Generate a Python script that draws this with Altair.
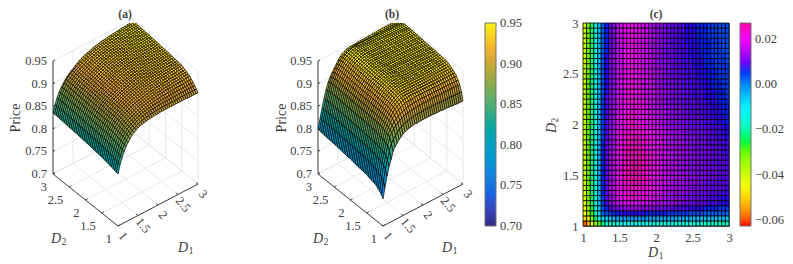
import altair as alt

D_TICKS = [1, 1.5, 2, 2.5, 3]
Z_TICKS = [0.7, 0.75, 0.8, 0.85, 0.9, 0.95]
D_GRID = [1 + 0.05 * k for k in range(41)]

PRICE_A = [
[815,833,846,857,866,873,879,884,888,891,894,896,897,898,899,900,901,901,902,902,902,903,903,903,903,903,903,903,903,903,903,903,903,903,903,902,902,902,902,902,902],
[816,835,848,859,868,875,881,886,890,893,896,898,900,901,902,903,904,905,905,906,906,906,907,907,907,907,907,907,907,907,907,907,907,907,907,907,907,907,907,907,907],
[817,836,850,861,870,877,883,888,892,895,898,900,902,904,905,906,907,908,908,909,909,910,910,910,911,911,911,911,911,911,911,911,912,912,912,912,912,912,912,912,912],
[818,837,851,862,871,878,884,889,893,896,899,901,903,905,906,908,909,910,911,911,912,912,913,913,913,914,914,914,915,915,915,915,915,916,916,916,916,916,916,916,916],
[819,838,852,863,872,879,885,890,894,897,900,902,904,906,908,909,910,911,912,913,914,915,915,916,916,917,917,917,918,918,918,918,919,919,919,919,919,920,920,920,920],
[820,839,853,864,873,880,886,891,895,898,901,903,905,907,909,910,912,913,914,915,916,917,917,918,919,919,920,920,921,921,921,922,922,922,923,923,923,923,924,924,924],
[821,840,854,865,874,881,887,892,896,899,902,904,906,908,910,912,913,914,915,916,917,918,919,920,920,921,921,922,922,923,923,923,924,924,924,925,925,925,926,926,926],
[822,841,855,866,875,882,888,893,897,900,903,905,907,909,911,913,914,915,916,917,918,919,920,921,921,922,923,923,924,924,925,925,925,926,926,926,927,927,927,928,928],
[822,841,855,867,876,883,889,894,898,901,903,906,908,910,912,914,915,916,917,918,919,920,921,922,922,923,924,924,925,925,926,926,927,927,927,928,928,928,929,929,930],
[823,842,856,867,876,884,890,894,898,901,904,906,909,911,913,914,916,917,918,919,920,921,922,923,923,924,925,925,926,926,927,927,928,928,929,929,929,930,930,931,932],
[824,843,857,868,877,884,890,895,899,902,905,907,909,911,913,915,917,918,919,920,921,922,923,924,925,925,926,927,927,928,928,929,929,930,930,931,931,932,932,933,934],
[824,843,857,868,877,884,890,895,899,902,905,907,910,912,914,916,917,919,920,921,922,923,924,925,925,926,927,927,928,928,929,929,930,930,931,931,932,932,933,933,934],
[825,844,858,869,877,885,891,895,899,902,905,908,910,912,914,916,918,919,920,922,923,924,925,925,926,927,927,928,929,929,930,930,931,931,931,932,932,933,933,934,935],
[825,844,858,869,878,885,891,896,900,903,905,908,911,913,915,917,918,920,921,922,923,924,925,926,927,927,928,929,929,930,930,931,931,932,932,933,933,933,934,934,935],
[826,844,858,869,878,885,891,896,900,903,906,908,911,913,915,917,919,920,921,923,924,925,926,926,927,928,929,929,930,930,931,931,932,932,933,933,934,934,934,935,936],
[826,845,859,870,878,885,891,896,900,903,906,909,911,913,916,917,919,921,922,923,924,925,926,927,928,928,929,930,930,931,931,932,932,933,933,934,934,935,935,936,936],
[827,845,859,870,879,886,892,896,900,904,906,909,912,914,916,918,919,921,922,924,925,926,927,927,928,929,930,930,931,931,932,932,933,933,934,934,935,935,936,936,937],
[827,845,859,870,879,886,892,897,901,904,906,909,912,914,916,918,920,921,923,924,925,926,927,928,929,929,930,931,931,932,932,933,933,934,934,935,935,936,936,937,937],
[828,846,860,870,879,886,892,897,901,904,907,910,912,914,917,918,920,922,923,925,926,927,928,928,929,930,931,931,932,932,933,933,934,934,935,935,936,936,937,937,938],
[828,846,860,871,879,886,892,897,901,904,907,910,912,915,917,919,921,922,924,925,926,927,928,929,930,930,931,932,932,933,933,934,934,935,935,936,936,937,937,938,938],
[829,846,860,871,880,887,893,897,901,905,907,910,913,915,917,919,921,923,924,925,927,928,929,930,930,931,932,932,933,933,934,934,935,935,936,936,937,937,938,938,939],
[829,847,860,871,880,887,893,898,902,905,907,911,913,915,918,920,921,923,925,926,927,928,929,930,931,931,932,933,933,934,934,935,935,936,936,937,937,938,938,939,939],
[829,847,861,871,880,887,893,898,902,905,908,911,913,916,918,920,922,923,925,926,927,929,930,931,931,932,933,933,934,934,935,935,936,936,937,937,938,938,939,939,940],
[830,847,861,872,880,887,893,898,902,905,908,911,914,916,918,920,922,924,925,927,928,929,930,931,932,932,933,934,934,935,935,936,936,937,937,938,938,939,939,940,940],
[830,848,861,872,881,888,894,898,902,906,908,911,914,916,919,921,922,924,926,927,928,929,930,931,932,933,933,934,935,935,936,936,937,937,938,938,939,939,940,940,941],
[831,848,862,872,881,888,894,899,903,906,908,912,914,917,919,921,923,924,926,927,928,930,931,932,932,933,934,934,935,936,936,937,937,938,938,939,939,940,940,941,941],
[831,848,862,873,881,888,894,899,903,906,909,912,915,917,919,921,923,925,926,928,929,930,931,932,933,933,934,935,935,936,937,937,938,938,939,939,940,940,940,941,941],
[831,849,862,873,881,888,894,899,903,906,909,912,915,917,920,922,923,925,927,928,929,930,931,932,933,934,934,935,936,936,937,937,938,938,939,939,940,940,941,941,942],
[832,849,862,873,882,889,895,899,903,907,909,912,915,918,920,922,924,925,927,928,929,931,932,933,933,934,935,935,936,937,937,938,938,939,939,940,940,941,941,942,942],
[832,849,863,873,882,889,895,900,904,907,909,913,915,918,920,922,924,926,927,929,930,931,932,933,934,934,935,936,936,937,938,938,939,939,940,940,941,941,942,942,942],
[832,850,863,874,882,889,895,900,904,907,910,913,916,918,921,923,924,926,928,929,930,931,932,933,934,935,935,936,937,937,938,939,939,940,940,941,941,941,942,942,943],
[833,850,863,874,882,889,895,900,904,907,910,913,916,918,921,923,925,926,928,929,931,932,933,934,934,935,936,936,937,938,938,939,939,940,940,941,941,942,942,943,943],
[833,850,863,874,883,890,896,900,904,908,910,913,916,919,921,923,925,927,928,930,931,932,933,934,935,935,936,937,937,938,939,939,940,940,941,941,942,942,943,943,943],
[833,850,864,874,883,890,896,901,905,908,910,914,916,919,921,923,925,927,929,930,931,932,933,934,935,936,936,937,938,938,939,940,940,941,941,942,942,942,943,943,944],
[834,851,864,875,883,890,896,901,905,908,911,914,917,919,922,924,926,927,929,930,931,933,934,935,935,936,937,937,938,939,939,940,940,941,941,942,942,943,943,944,944],
[834,851,864,875,883,891,897,901,905,909,911,914,917,920,922,924,926,928,929,931,932,933,934,935,936,936,937,938,938,939,940,940,941,941,942,942,943,943,943,944,944],
[834,851,864,875,884,891,897,902,906,909,912,915,917,920,922,924,926,928,930,931,932,933,934,935,936,937,937,938,939,939,940,940,941,941,942,942,943,943,944,944,945],
[835,851,864,875,884,891,897,902,906,909,912,915,918,920,923,925,927,928,930,931,932,934,935,935,936,937,938,938,939,940,940,941,941,942,942,943,943,944,944,944,945],
[835,851,864,875,884,892,898,902,906,910,913,915,918,921,923,925,927,929,930,932,933,934,935,936,937,937,938,939,939,940,941,941,942,942,942,943,943,944,944,945,945],
[835,851,864,875,884,892,898,903,907,910,913,916,918,921,923,925,927,929,930,932,933,934,935,936,937,938,938,939,940,940,941,941,942,942,943,943,944,944,944,945,945],
[835,851,864,874,882,888,894,899,903,907,910,914,917,920,923,925,927,928,930,931,933,934,935,936,937,938,938,939,940,940,941,941,942,942,943,943,943,944,944,945,945],
]

PRICE_B = [
[760,783,806,824,837,853,861,867,872,876,880,883,885,886,887,888,889,888,889,889,889,889,889,889,889,889,888,888,888,888,887,887,887,886,886,885,885,884,884,884,884],
[766,793,816,836,853,867,875,881,886,890,893,896,898,899,900,901,902,903,903,903,903,903,904,904,903,903,903,903,903,903,902,902,902,902,902,902,901,901,901,901,901],
[771,799,823,844,862,879,887,893,898,901,905,907,909,911,912,913,914,914,914,915,915,916,916,915,916,916,916,916,916,915,915,915,916,915,915,915,915,915,915,914,914],
[774,802,826,847,865,882,890,897,903,907,911,914,916,918,919,921,921,922,923,922,923,923,923,923,922,923,922,922,923,922,922,922,922,922,922,922,922,921,921,921,921],
[777,805,828,849,867,884,893,901,908,913,917,920,923,925,927,927,928,928,928,929,929,930,929,929,929,929,929,928,929,928,928,927,928,928,927,927,927,927,927,927,927],
[779,807,830,850,869,885,895,903,910,916,921,924,927,929,931,931,932,933,933,933,933,933,932,932,933,932,932,932,932,932,931,932,931,931,932,931,931,931,931,931,931],
[780,808,831,851,870,887,896,905,912,918,923,926,929,932,934,935,935,935,935,935,935,935,935,935,934,934,934,934,934,934,934,934,934,934,934,934,934,934,934,934,934],
[781,809,832,852,871,888,897,906,913,919,925,928,931,934,936,936,937,937,937,937,937,937,937,937,936,936,936,936,936,936,936,936,936,936,936,936,936,936,936,937,937],
[782,810,833,853,872,889,898,907,914,920,925,929,932,935,937,938,938,938,938,938,938,938,938,938,938,938,938,938,938,938,938,938,938,938,938,938,938,938,938,939,939],
[783,812,834,853,873,890,899,907,914,920,926,930,934,936,938,939,939,940,940,940,940,939,939,939,939,939,939,939,939,939,939,939,939,939,939,939,939,940,940,940,941],
[785,813,835,854,874,890,899,908,915,921,927,931,934,937,939,940,941,941,941,941,941,940,940,940,940,940,940,940,940,940,940,940,940,941,940,941,941,941,941,942,943],
[785,813,835,854,874,890,899,908,915,921,927,931,935,937,939,941,941,942,942,942,942,941,941,941,940,941,941,940,941,940,941,940,941,941,941,941,942,941,942,942,943],
[786,814,836,855,874,891,900,908,915,921,927,931,935,938,940,941,942,942,942,943,943,942,942,941,941,942,941,941,942,941,942,941,942,942,941,942,942,942,942,943,944],
[786,814,836,855,875,891,900,909,916,922,927,932,936,938,940,942,942,943,943,943,943,942,942,942,942,942,942,942,942,942,942,942,942,942,942,943,943,942,943,943,944],
[787,814,836,855,875,891,900,909,916,922,928,932,936,938,940,942,943,943,943,944,944,943,943,942,942,943,943,942,943,942,943,942,943,943,943,943,943,943,943,944,945],
[787,815,837,856,875,891,900,909,916,922,928,933,936,939,941,942,943,944,944,944,944,943,943,943,943,943,943,943,943,943,943,943,943,943,943,944,943,944,944,944,945],
[788,815,837,856,876,892,901,909,916,923,928,933,937,939,941,943,943,944,944,945,945,944,944,943,943,944,944,943,944,943,944,943,944,944,944,944,944,944,945,945,945],
[788,815,837,856,876,892,901,910,917,923,928,933,937,939,941,943,944,944,945,945,945,944,944,944,944,944,944,944,944,944,944,944,944,944,944,945,944,945,945,945,946],
[789,816,838,856,876,892,901,910,917,923,929,934,937,940,942,943,944,945,945,945,945,945,945,944,944,945,945,944,945,944,945,944,945,945,945,945,945,945,945,946,946],
[790,816,838,857,876,892,901,910,917,923,929,934,937,940,942,944,945,945,945,946,945,945,945,945,945,945,945,945,945,945,945,945,945,945,945,945,945,946,945,946,946],
[791,816,838,857,876,892,901,909,916,922,929,934,937,939,941,943,945,945,945,945,945,945,945,945,945,945,945,945,945,945,945,945,945,945,945,945,945,945,945,945,946],
[791,817,838,857,876,892,901,910,917,922,929,934,937,939,942,944,945,945,946,946,946,945,945,945,945,945,945,945,945,945,945,945,945,945,945,945,945,946,946,946,946],
[791,817,839,857,876,892,901,910,917,923,929,934,937,940,942,944,945,945,946,946,946,946,946,946,945,946,946,945,946,945,946,945,946,946,946,946,946,946,946,946,947],
[792,817,839,858,876,892,901,910,917,923,929,934,938,940,942,944,945,946,946,946,946,946,946,946,946,946,946,946,946,946,946,946,946,946,946,946,946,947,946,947,947],
[792,818,839,858,877,893,902,910,917,924,929,934,938,940,943,945,945,946,947,946,946,946,946,946,946,946,946,946,946,946,946,946,946,946,947,946,947,947,947,947,947],
[793,818,840,858,877,893,902,911,918,924,929,935,938,941,943,945,946,946,947,946,946,947,947,947,946,947,947,946,947,947,947,947,947,947,947,947,947,947,947,948,948],
[793,818,840,859,877,893,902,911,918,924,930,935,939,941,943,945,946,947,947,947,947,947,947,947,947,946,947,947,947,947,948,947,948,947,948,947,948,948,947,948,948],
[794,819,840,859,877,893,902,911,918,924,930,935,939,941,944,946,946,947,948,947,947,947,947,947,947,947,947,947,948,947,948,947,948,947,948,947,948,948,948,948,948],
[794,819,840,859,878,894,903,911,918,925,930,935,939,942,944,946,947,947,948,947,947,948,948,948,947,947,948,947,948,948,948,948,948,948,948,948,948,949,948,949,949],
[795,819,841,859,878,894,903,912,919,925,930,936,939,942,944,946,947,948,948,948,948,948,948,948,948,947,948,948,948,948,949,948,949,948,949,948,949,949,949,949,949],
[795,820,841,860,878,894,903,912,919,925,931,936,940,942,945,946,947,948,949,948,948,948,948,948,948,948,948,948,949,948,949,949,949,949,949,949,949,949,949,949,949],
[795,820,841,860,878,894,903,912,919,925,931,936,940,942,945,947,948,948,949,948,949,949,949,949,948,948,949,948,949,949,949,949,949,949,949,949,949,949,949,950,950],
[796,820,841,860,879,895,904,912,919,926,931,936,940,943,945,947,948,949,949,949,949,949,949,949,949,948,949,949,949,949,950,949,950,949,950,949,950,950,950,950,950],
[796,820,842,860,879,895,904,913,920,926,931,937,940,943,945,947,948,949,950,949,949,949,949,949,949,949,949,949,950,949,950,950,950,950,950,950,950,950,950,950,950],
[796,821,842,861,879,895,904,913,920,926,932,937,941,943,946,948,949,949,950,949,949,950,950,950,949,949,950,949,950,950,950,950,950,950,950,950,950,950,950,950,950],
[797,821,842,861,879,896,905,913,920,927,932,937,941,944,946,948,949,950,950,950,950,950,950,950,950,949,950,950,950,950,950,950,950,950,950,950,950,950,950,950,950],
[797,821,842,861,880,896,905,914,921,927,933,938,941,944,946,948,949,950,950,950,950,950,950,950,950,950,950,950,950,950,950,950,950,950,950,950,950,950,950,950,950],
[798,821,842,861,880,896,905,914,921,927,933,938,942,944,947,948,949,950,950,950,950,950,950,950,950,950,950,950,950,950,950,950,950,950,950,950,950,950,950,950,950],
[798,820,841,860,879,895,904,913,920,926,932,937,941,944,946,948,949,949,949,950,950,949,950,949,949,949,949,949,949,949,949,949,949,949,949,949,949,949,949,949,949],
[799,820,841,860,878,894,903,911,918,925,931,936,939,942,944,945,946,946,947,947,947,947,947,947,947,947,946,947,947,947,948,947,948,948,948,948,948,948,948,949,949],
[800,820,841,860,877,891,900,908,915,922,928,934,938,941,943,944,945,945,945,945,946,946,946,946,946,947,946,947,947,947,948,947,948,948,948,948,948,948,948,949,949],
]

DIFF_C = [
[-60,-52,-42,-33,-29,-20,-18,-17,-16,-15,-14,-13,-12,-12,-12,-12,-12,-13,-13,-13,-13,-14,-14,-14,-14,-14,-15,-15,-15,-15,-16,-16,-16,-17,-17,-17,-18,-18,-18,-18],
[-50,-42,-32,-23,-15,-8,-6,-5,-4,-3,-3,-2,-2,-2,-2,-2,-2,-2,-2,-3,-3,-3,-3,-3,-4,-4,-4,-4,-4,-4,-5,-5,-5,-5,-5,-5,-6,-6,-6,-6],
[-46,-37,-27,-17,-8,2,4,5,6,6,7,7,7,7,7,7,7,6,6,6,6,6,6,5,5,5,5,5,5,4,4,4,4,3,3,3,3,3,3,2],
[-44,-35,-25,-15,-6,4,6,8,10,11,12,13,13,13,13,13,12,12,12,11,11,11,10,10,9,9,8,8,8,7,7,7,7,6,6,6,6,5,5,5],
[-42,-33,-24,-14,-5,5,8,11,14,16,17,18,19,19,19,18,18,17,16,16,15,15,14,13,13,12,12,11,11,10,10,9,9,9,8,8,8,7,7,7],
[-41,-32,-23,-14,-4,5,9,12,15,18,20,21,22,22,22,21,20,20,19,18,17,16,15,14,14,13,12,12,11,11,10,10,9,9,9,8,8,8,7,7],
[-41,-32,-23,-14,-4,6,9,13,16,19,21,22,23,23,23,22,21,21,20,19,18,17,16,15,14,13,13,12,12,11,11,10,10,10,9,9,9,8,8,8],
[-40,-31,-22,-14,-4,6,9,13,16,19,21,23,24,24,24,23,22,22,21,20,19,18,16,15,15,14,13,13,12,12,11,11,10,10,10,9,9,9,9,8],
[-40,-31,-22,-14,-3,6,9,13,16,19,22,23,24,25,25,24,23,22,21,20,19,18,17,16,15,14,14,13,13,12,12,11,11,10,10,10,9,9,9,9],
[-39,-30,-22,-14,-3,6,9,13,16,19,22,24,25,25,25,25,24,23,22,21,20,18,17,16,15,15,14,13,13,12,12,11,11,11,10,10,10,9,9,9],
[-39,-30,-22,-14,-3,6,9,13,16,19,22,24,25,26,26,25,24,23,22,21,20,18,17,16,15,15,14,13,13,12,12,11,11,11,10,10,10,9,9,9],
[-39,-30,-22,-14,-3,6,9,13,16,19,22,24,25,26,26,25,24,23,22,21,20,18,17,16,15,15,14,13,13,12,12,11,11,11,10,10,10,9,9,9],
[-39,-30,-22,-14,-3,6,9,13,16,19,22,24,25,26,26,25,24,23,22,21,20,18,17,16,15,15,14,13,13,12,12,11,11,10,10,10,9,9,9,9],
[-39,-30,-22,-14,-3,6,9,13,16,19,21,23,25,25,25,25,24,23,22,21,20,18,17,16,15,14,14,13,13,12,12,11,11,10,10,10,9,9,9,8],
[-39,-30,-22,-14,-3,6,9,13,16,19,21,23,25,25,25,25,24,23,22,21,19,18,17,16,15,14,14,13,13,12,11,11,11,10,10,10,9,9,8,8],
[-39,-30,-22,-14,-3,6,9,12,15,18,21,23,24,25,25,24,23,22,21,20,19,18,17,16,15,14,13,13,12,12,11,11,10,10,10,9,9,9,8,8],
[-38,-30,-22,-14,-4,6,9,12,15,18,21,23,24,25,24,24,23,22,21,20,19,18,16,15,14,14,13,13,12,11,11,11,10,10,9,9,9,8,8,8],
[-38,-30,-22,-14,-4,5,9,12,15,18,21,23,24,24,24,23,22,21,21,20,18,17,16,15,14,13,13,12,12,11,11,10,10,10,9,9,8,8,8,7],
[-38,-30,-22,-14,-4,5,8,12,15,18,21,22,24,24,24,23,22,21,20,19,18,17,16,15,14,13,13,12,11,11,10,10,10,9,9,9,8,8,7,7],
[-38,-30,-22,-14,-4,5,8,11,14,17,20,22,23,24,23,22,21,20,19,18,17,16,15,14,13,13,12,11,11,10,10,10,9,9,9,8,8,8,7,7],
[-38,-30,-22,-14,-4,5,8,11,14,17,20,22,23,23,22,21,20,19,18,17,16,15,14,13,12,12,11,11,10,10,9,9,9,8,8,8,7,7,7,6],
[-38,-30,-22,-14,-4,5,8,11,14,17,20,22,23,23,22,21,20,19,18,17,16,15,14,13,12,11,11,10,10,10,9,9,9,8,8,8,7,7,7,6],
[-38,-30,-22,-14,-4,5,8,11,14,17,20,21,22,23,22,21,20,19,18,17,16,15,14,13,12,11,11,10,10,9,9,9,8,8,8,7,7,7,6,6],
[-38,-30,-22,-14,-4,5,8,11,14,17,19,21,22,22,22,21,20,19,17,16,15,14,13,12,12,11,11,10,10,9,9,9,8,8,8,7,7,7,6,6],
[-38,-30,-22,-14,-4,5,8,11,14,17,19,21,22,22,22,21,20,18,17,16,15,14,13,12,11,11,10,10,9,9,9,8,8,8,7,7,7,6,6,6],
[-38,-30,-22,-14,-4,5,8,11,14,17,19,21,22,22,21,20,19,18,17,16,15,14,13,12,11,11,10,10,9,9,8,8,8,7,7,7,6,6,6,5],
[-38,-30,-22,-14,-4,4,7,10,14,16,19,21,22,22,21,20,19,18,17,16,15,14,13,12,11,10,10,9,9,9,8,8,8,7,7,7,6,6,6,5],
[-38,-30,-22,-14,-4,4,7,10,13,16,19,21,22,22,21,20,19,18,17,16,14,13,12,11,11,10,10,9,9,8,8,8,7,7,7,6,6,6,5,5],
[-38,-30,-22,-14,-4,4,7,10,13,16,19,20,21,22,21,20,19,18,17,15,14,13,12,11,11,10,9,9,9,8,8,8,7,7,7,6,6,6,5,5],
[-38,-31,-22,-14,-4,4,7,10,13,16,18,20,21,21,21,20,19,18,16,15,14,13,12,11,10,10,9,9,8,8,8,7,7,7,6,6,6,5,5,5],
[-38,-31,-23,-14,-4,4,7,10,13,16,18,20,21,21,21,20,18,17,16,15,14,13,12,11,10,10,9,9,8,8,8,7,7,7,6,6,6,5,5,5],
[-38,-31,-23,-14,-4,4,7,10,13,16,18,20,21,21,20,19,18,17,16,15,14,13,12,11,10,9,9,8,8,8,7,7,7,6,6,6,5,5,5,5],
[-39,-31,-23,-14,-4,4,7,10,13,15,18,20,21,21,20,19,18,17,16,15,13,12,12,11,10,9,9,8,8,8,7,7,7,6,6,6,5,5,5,4],
[-39,-31,-23,-14,-4,4,7,10,13,15,18,20,21,21,20,19,18,17,16,14,13,12,11,10,10,9,9,8,8,7,7,7,6,6,6,5,5,5,5,4],
[-39,-31,-23,-14,-5,3,6,9,12,15,18,20,21,21,20,19,18,17,16,14,13,12,11,10,10,9,8,8,8,7,7,7,6,6,6,5,5,5,4,4],
[-39,-31,-23,-14,-5,3,6,9,12,15,18,20,21,21,20,19,18,17,15,14,13,12,11,10,9,9,8,8,8,7,7,7,6,6,6,5,5,5,4,4],
[-39,-31,-23,-14,-5,3,6,9,12,15,18,20,21,21,20,19,18,17,15,14,13,12,11,10,9,9,8,8,7,7,7,6,6,6,6,5,5,5,4,4],
[-39,-31,-23,-14,-5,3,6,9,12,15,18,20,21,21,20,19,18,17,15,14,13,12,11,10,9,9,8,8,7,7,7,6,6,6,5,5,5,4,4,4],
[-39,-31,-23,-14,-5,3,6,9,12,15,18,20,21,21,20,19,18,17,15,14,13,12,11,10,9,9,8,8,7,7,7,6,6,6,5,5,5,4,4,4],
[-39,-31,-23,-14,-5,3,6,9,12,15,18,20,21,21,20,19,18,17,15,14,13,12,11,10,9,9,8,8,7,7,7,6,6,6,5,5,5,4,4,4],
]

PARULA_POS = [0.6995, 0.7325, 0.7625, 0.7975, 0.83, 0.8625, 0.8925, 0.9125, 0.93, 0.9505]
PARULA_COL = ["#352a87", "#2f55e5", "#1c85e0", "#10a0c8", "#1ea892", "#6fb060", "#b5a23e", "#f0a832", "#f5c828", "#f8f30f"]
HSV_POS = [-0.0627, -0.0465, -0.0265, -0.0118, 0.0065, 0.021, 0.0271]
HSV_COL = ["#ff0000", "#ffff00", "#00ff00", "#00ffff", "#0000ff", "#ff00ff", "#ff00a8"]

FONT = "Liberation Serif"
INK = "#404040"
WIDTH_A, WIDTH_B, HEIGHT = 266, 309, 203


def project(d1, d2, z, corner):
    return (corner[0] + (d1 - 1) * 40 - (d2 - 1) * 32.5,
            corner[1] - (d1 - 1) * 21 - (d2 - 1) * 26 - (z - 0.7) * 452)


def seg(a, b, corner):
    p, q = project(*a, corner), project(*b, corner)
    return {"x": p[0], "y": p[1], "x2": q[0], "y2": q[1]}


def note(text, x, y, size=12.5, style="normal", weight="normal", angle=0, align="center"):
    return alt.Chart(alt.Data(values=[{"k": 1}])).mark_text(
        text=text, font=FONT, fontSize=size, fontStyle=style, fontWeight=weight,
        color=INK, angle=angle, align=align, baseline="middle"
    ).encode(x=alt.value(x), y=alt.value(y))


def surface(table, corner, w, title, titles, legend):
    xs = alt.Scale(domain=[0, w], range=[0, w])
    ys = alt.Scale(domain=[0, HEIGHT], range=[0, HEIGHT])
    grid, axes = [], []
    for t in D_TICKS:
        grid += [seg((t, 1, .7), (t, 3, .7), corner), seg((1, t, .7), (3, t, .7), corner),
                 seg((3, t, .7), (3, t, .95), corner), seg((t, 3, .7), (t, 3, .95), corner)]
    for t in Z_TICKS:
        grid += [seg((3, 1, t), (3, 3, t), corner), seg((1, 3, t), (3, 3, t), corner)]
        axes.append(seg((1, 3, t), (1.05, 3, t), corner))
    for t in D_TICKS:
        axes += [seg((t, 1, .7), (t, 1.06, .7), corner), seg((1, t, .7), (1.05, t, .7), corner)]
    axes += [seg((1, 3, .7), (1, 3, .95), corner), seg((1, 1, .7), (1, 3, .7), corner),
             seg((1, 1, .7), (3, 1, .7), corner)]

    def rules(rows, color, width):
        return alt.Chart(alt.Data(values=rows)).mark_rule(color=color, strokeWidth=width).encode(
            x=alt.X("x:Q", scale=xs, axis=None), x2="x2:Q",
            y=alt.Y("y:Q", scale=ys, axis=None), y2="y2:Q")

    quads = []
    for j in range(39, -1, -1):
        for i in range(39, -1, -1):
            ring = [project(D_GRID[a], D_GRID[b], table[b][a] / 1000, corner)
                    for a, b in ((i, j), (i + 1, j), (i + 1, j + 1), (i, j + 1), (i, j))]
            quads.append({"type": "Feature",
                          "geometry": {"type": "Polygon", "coordinates": [[list(p) for p in ring]]},
                          "properties": {"p": table[j][i] / 1000}})
    mesh = alt.Chart(alt.Data(values=quads)).mark_geoshape(
        stroke="#000000", strokeWidth=0.7
    ).encode(
        color=alt.Color("properties.p:Q",
                        scale=alt.Scale(domain=PARULA_POS, range=PARULA_COL, zero=False, clamp=True),
                        legend=legend)
    ).project(type="identity", scale=1, translate=[0, 0])

    zl = [{"x": project(1, 3, t, corner)[0] - 6, "y": project(1, 3, t, corner)[1], "t": f"{t:g}"} for t in Z_TICKS]
    d2l = [{"x": project(1, t, .7, corner)[0] - 6, "y": project(1, t, .7, corner)[1] + 13, "t": f"{t:g}"} for t in D_TICKS]
    d1l = [{"x": project(t, 1, .7, corner)[0] + 5, "y": project(t, 1, .7, corner)[1] + 10, "t": f"{t:g}"} for t in D_TICKS]

    def labels(rows, **kw):
        return alt.Chart(alt.Data(values=rows)).mark_text(
            font=FONT, fontSize=12.5, color=INK, baseline="middle", **kw
        ).encode(x=alt.X("x:Q", scale=xs, axis=None), y=alt.Y("y:Q", scale=ys, axis=None), text="t:N")

    parts = [rules(grid, "#e2e2e2", 0.8), rules(axes, INK, 1), mesh,
             labels(zl, align="right"), labels(d2l, align="right"), labels(d1l, align="center", angle=50),
             note(title, titles["title"], -8, size=11.5, weight="bold"),
             note("Price", titles["price"], 95, size=14, angle=270),
             note("D", titles["d2"], 216, size=14, style="italic"),
             note("2", titles["d2"] + 8, 219, size=9.5),
             note("D", titles["d1"], 225, size=14, style="italic"),
             note("1", titles["d1"] + 8, 228, size=9.5)]
    return alt.layer(*parts).properties(width=w, height=HEIGHT)


panel_a = surface(PRICE_A, (110, 203), WIDTH_A, "(a)",
                  {"title": 117, "price": 8, "d2": 48, "d1": 175}, None)
panel_b = surface(PRICE_B, (109, 203), WIDTH_B, "(b)",
                  {"title": 118, "price": 8, "d2": 44, "d1": 173},
                  alt.Legend(orient="none", legendX=211, legendY=0, title=None, gradientLength=203,
                             gradientThickness=11, direction="vertical", values=[.7, .75, .8, .85, .9, .95],
                             format=".2f", labelFont=FONT, labelFontSize=12.5, labelColor=INK,
                             labelOffset=4, gradientStrokeColor="#707070", gradientStrokeWidth=1,
                             padding=0))

cells = [{"x": D_GRID[i], "x2": D_GRID[i + 1], "y": D_GRID[j], "y2": D_GRID[j + 1], "v": DIFF_C[j][i] / 1000}
         for j in range(40) for i in range(40)]
heat_base = alt.Chart(alt.Data(values=cells)).mark_rect(stroke="#000000", strokeWidth=0.8).encode(
    x=alt.X("x:Q", scale=alt.Scale(domain=[1, 3], nice=False, zero=False),
            axis=alt.Axis(values=D_TICKS, title=None, ticks=False, domain=False, grid=False, labelFont=FONT,
                          labelFontSize=12.5, labelColor=INK, labelPadding=5, format="~g", labelFlush=False)),
    x2="x2:Q",
    y=alt.Y("y:Q", scale=alt.Scale(domain=[1, 3], nice=False, zero=False),
            axis=alt.Axis(values=D_TICKS, title=None, ticks=False, domain=False, grid=False, labelFont=FONT,
                          labelFontSize=12.5, labelColor=INK, labelPadding=5, format="~g", labelFlush=False)),
    y2="y2:Q",
    color=alt.Color("v:Q", scale=alt.Scale(domain=HSV_POS, range=HSV_COL, zero=False, clamp=True),
                    legend=alt.Legend(orient="none", legendX=157, legendY=0, title=None, gradientLength=203,
                                      gradientThickness=11, direction="vertical",
                                      values=[-.06, -.04, -.02, 0, .02], format=".2f", labelFont=FONT,
                                      labelFontSize=12.5, labelColor=INK, labelOffset=4,
                                      gradientStrokeColor="#707070", gradientStrokeWidth=1, padding=0)),
)
panel_c = alt.layer(
    heat_base,
    note("(c)", 73, -8, size=11.5, weight="bold"),
    note("D", -31, 105, size=14, style="italic", angle=270),
    note("2", -28, 97, size=9.5, angle=270),
    note("D", 70, 230, size=14, style="italic"),
    note("1", 78, 233, size=9.5),
).properties(width=146, height=HEIGHT, view=alt.ViewBackground(stroke="#707070"))

chart = alt.hconcat(panel_a, panel_b, panel_c, spacing=0, bounds="flush").resolve_scale(
    color="independent"
).resolve_legend(color="independent").properties(
    padding={"left": 0, "top": 0, "right": 0, "bottom": 0}
).configure_view(stroke=None)

chart.save("out.html", embed_options={"renderer": "svg", "actions": False})
